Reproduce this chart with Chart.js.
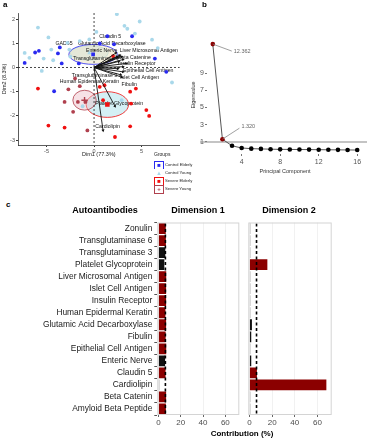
<!DOCTYPE html>
<html>
<head>
<meta charset="utf-8">
<script src="https://cdn.jsdelivr.net/npm/chart.js@4.4.0/dist/chart.umd.min.js"></script>
<style>
body { margin: 0; width: 367px; height: 440px; position: relative; background: #fff; overflow: hidden;
       font-family: "Liberation Sans", Arial, sans-serif; }
canvas { position: absolute; }
.t { position: absolute; white-space: nowrap; color: #000; line-height: 1; }
.c { transform: translateX(-50%); }
.lg { position: absolute; left: 154px; width: 8px; height: 7px; font-size: 6px; line-height: 7px; text-align: center; }
.lt { position: absolute; left: 165px; font-size: 4.2px; color: #222; white-space: nowrap; line-height: 7px; }
</style>
</head>
<body>
<canvas id="pa" width="185" height="162" style="left:0;top:0"></canvas>
<canvas id="pb" width="177" height="180" style="left:190px;top:0"></canvas>
<canvas id="pc1" width="242" height="225" style="left:0;top:215px"></canvas>
<canvas id="pc2" width="95" height="225" style="left:244px;top:215px"></canvas>

<div class="t" style="left:3px;top:1px;font-size:8px;font-weight:bold">a</div>
<div class="t" style="left:202px;top:1px;font-size:8px;font-weight:bold">b</div>
<div class="t" style="left:6px;top:201px;font-size:8px;font-weight:bold">c</div>

<div class="t" style="left:154px;top:152px;font-size:5px;color:#222">Groups</div>
<div class="lg" style="top:161px;border:1px solid #2a2af0;color:#2a2af0">■</div>
<div class="lt" style="top:161px">Control Elderly</div>
<div class="lg" style="top:169px;border:1px solid #fff;color:#a9d8ea">▲</div>
<div class="lt" style="top:169px">Control Young</div>
<div class="lg" style="top:177px;border:1px solid #f01010;color:#f01010">■</div>
<div class="lt" style="top:177px">Severe Elderly</div>
<div class="lg" style="top:185px;border:1px solid #b0404e;color:#b0404e;font-weight:bold">+</div>
<div class="lt" style="top:185px">Severe Young</div>

<div class="t c" style="left:105px;top:206px;font-size:9px;font-weight:bold">Autoantibodies</div>
<div class="t c" style="left:198px;top:206px;font-size:9px;font-weight:bold">Dimension 1</div>
<div class="t c" style="left:289px;top:206px;font-size:9px;font-weight:bold">Dimension 2</div>
<div class="t c" style="left:242px;top:430px;font-size:8px;font-weight:bold">Contribution (%)</div>

<script>
// ---- panel a: PCA biplot ----
const ctrlElderly = [[-7.3,0.19],[-6.2,0.62],[-5.8,0.69],[-3.8,0.58],[-3.6,0.83],[-3.4,0.17],[-1.6,0.17],
  [0.6,0.99],[1.4,1.29],[2.1,0.96],[4.0,1.29],[6.4,0.37],[7.6,-0.18],[-4.2,-0.98]];
const ctrlYoung = [[-7.3,0.6],[-6.8,0.4],[-5.9,1.65],[-4.8,1.24],[-4.5,0.74],[-5.3,0.37],[-5.5,-0.14],
  [-2.8,1.02],[-2.6,0.74],[-2.5,0.45],[-1.5,1.09],[-0.5,1.16],[0.25,1.47],[2.4,2.2],[3.2,1.72],[3.5,1.6],
  [4.8,1.9],[4.3,1.4],[6.1,1.15],[6.7,0.8],[8.2,-0.62],[2.9,-1.35],[-1.2,-1.6],[-4.3,0.3]];
const severeElderly = [[-5.9,-0.87],[-4.8,-2.4],[-3.1,-2.48],[0.95,-1.35],[2.0,0.47],[3.8,-1.0],[4.4,-0.87],
  [3.9,-1.49],[5.5,-1.76],[5.8,-2.0],[3.8,-2.43],[2.2,-2.87],[0.6,-0.8],[1.1,-0.73]];
const severeYoung = [[-2.0,-0.45],[-2.7,-0.9],[-1.5,-0.77],[-1.7,-1.42],[-2.2,-1.83],[-0.7,-2.6],
  [-3.1,-1.42],[-0.9,-1.42]];
const groupNames = ['Control Elderly', 'Control Young', 'Severe Elderly', 'Severe Young'];
const centroidX = [-0.1, -0.5, 1.4, -1.0];
const centroidY = [0.54, 0.6, -1.53, -1.35];
const ellipseRx = [2.55, 2.0, 2.23, 1.23];
const ellipseRy = [0.41, 0.3, 0.53, 0.41];
const dimTicksX = [-5, 0, 5];
const dimTicksY = [-3, -2, -1, 0, 1, 2];

const varNames = ['GAD65', 'Glutamic Acid Decarboxylase', 'Claudin 5', 'Enteric Nerve', 'Liver Microsomal Antigen',
  'Beta Catenine', 'Transglutaminase 6', 'Insulin Receptor', 'Epithelial Cell Antigen', 'Islet Cell Antigen',
  'Transglutaminase 3', 'Human Epidermal Keratin', 'Fibulin', 'Platelet Glycoprotein', 'Cardiolipin'];
const varTipX = [2.4, 2.7, 2.3, 2.5, 2.9, 3.05, 2.6, 3.4, 3.05, 3.05, 2.5, 2.8, 2.9, 2.2, 0.95];
const varTipY = [0.45, 0.5, 0.6, 0.42, 0.45, 0.33, 0.25, 0.17, 0.03, -0.18, -0.05, -0.3, -0.4, -1.6, -2.6];
const varLabelX = [-3.16, 1.87, 1.7, 0.8, 5.76, 4.25, 0.2, 4.5, 5.7, 4.8, 0.05, -0.48, 3.7, 2.65, 1.42];
const varLabelY = [0.99, 0.99, 1.29, 0.69, 0.69, 0.41, 0.37, 0.17, -0.14, -0.41, -0.32, -0.6, -0.69, -1.49, -2.45];

// ---- panel b: scree plot ----
const components = [1, 2, 3, 4, 5, 6, 7, 8, 9, 10, 11, 12, 13, 14, 15, 16];
const eigenvalues = [12.362, 1.320, 0.55, 0.30, 0.22, 0.19, 0.16, 0.14, 0.13, 0.12, 0.11, 0.10, 0.09, 0.08, 0.07, 0.06];
const screeTicksX = [4, 8, 12, 16];
const screeTicksY = [1, 3, 5, 7, 9];

// ---- panel c: contributions ----
const autoantibodies = ['Zonulin', 'Transglutaminase 6', 'Transglutaminase 3', 'Platelet Glycoprotein',
  'Liver Microsomal Antigen', 'Islet Cell Antigen', 'Insulin Receptor', 'Human Epidermal Keratin',
  'Glutamic Acid Decarboxylase', 'Fibulin', 'Epithelial Cell Antigen', 'Enteric Nerve', 'Claudin 5',
  'Cardiolipin', 'Beta Catenin', 'Amyloid Beta Peptide'];
const dim1Contrib = [6.6, 6.7, 6.2, 5.3, 7.0, 6.9, 6.9, 6.3, 6.9, 6.5, 7.0, 6.0, 6.4, 0.6, 6.9, 6.7];
const dim2Contrib = [0.4, 0.6, 0.8, 15.8, 0.2, 0.3, 0.5, 0.6, 2.2, 1.6, 0.2, 1.6, 6.6, 67.8, 0.5, 0.5];
const contribTicks = [0, 20, 40, 60];

const groupColors = ['#2a2af0', '#a9d8ea', '#f01010', '#b0404e'];
const ellipseFills = ['rgba(232,222,180,0.45)', 'rgba(173,216,230,0.35)', 'rgba(170,225,235,0.5)', 'rgba(238,190,200,0.45)'];
const FONT = '"Liberation Sans", Arial, sans-serif';

Chart.defaults.font.family = FONT;
Chart.defaults.animation = false;
Chart.defaults.plugins.legend.display = false;
Chart.defaults.plugins.tooltip.enabled = false;

const toPts = arr => arr.map(p => ({ x: p[0], y: p[1] }));
const fixedTicks = vals => s => { s.ticks = vals.map(v => ({ value: v })); };

const biplotDecor = {
  id: 'biplotDecor',
  beforeDatasetsDraw(chart) {
    const { ctx, chartArea: a, scales: { x, y } } = chart;
    ctx.save();
    // confidence ellipses
    [1, 0, 2, 3].forEach(i => {
      const cx = x.getPixelForValue(centroidX[i]), cy = y.getPixelForValue(centroidY[i]);
      const rx = Math.abs(x.getPixelForValue(centroidX[i] + ellipseRx[i]) - cx);
      const ry = Math.abs(y.getPixelForValue(centroidY[i] + ellipseRy[i]) - cy);
      ctx.beginPath();
      ctx.ellipse(cx, cy, rx, ry, 0, 0, Math.PI * 2);
      ctx.fillStyle = ellipseFills[i];
      ctx.fill();
      ctx.strokeStyle = groupColors[i];
      ctx.lineWidth = 0.8;
      ctx.stroke();
    });
    // dashed zero lines
    ctx.setLineDash([2, 2]);
    ctx.strokeStyle = '#333';
    ctx.lineWidth = 0.9;
    const x0 = x.getPixelForValue(0), y0 = y.getPixelForValue(0);
    ctx.beginPath();
    ctx.moveTo(x0, a.top); ctx.lineTo(x0, a.bottom);
    ctx.moveTo(a.left, y0); ctx.lineTo(a.right, y0);
    ctx.stroke();
    ctx.setLineDash([]);
    // variable labels
    ctx.font = '5.2px ' + FONT;
    ctx.fillStyle = '#111';
    ctx.textAlign = 'center';
    ctx.textBaseline = 'middle';
    varNames.forEach((n, i) => {
      ctx.fillText(n, x.getPixelForValue(varLabelX[i]), y.getPixelForValue(varLabelY[i]));
    });
    ctx.restore();
  }
};

const arrowSets = varNames.map((n, i) => ({
  label: n,
  data: [{ x: 0, y: 0 }, { x: varTipX[i], y: varTipY[i] }],
  showLine: true,
  borderColor: '#111',
  borderWidth: 0.9,
  pointRadius: [0, 1.8],
  pointStyle: 'triangle',
  pointBackgroundColor: '#111',
  pointBorderWidth: 0,
  pointRotation: c => {
    const ch = c.chart, sx = ch.scales.x, sy = ch.scales.y;
    if (!sx || !sy || c.dataIndex !== 1) return 0;
    const d = c.dataset.data;
    const dx = sx.getPixelForValue(d[1].x) - sx.getPixelForValue(d[0].x);
    const dy = sy.getPixelForValue(d[1].y) - sy.getPixelForValue(d[0].y);
    return Math.atan2(dy, dx) * 180 / Math.PI + 90;
  }
}));

const groupData = [ctrlElderly, ctrlYoung, severeElderly, severeYoung];
const pointSets = groupData.map((g, i) => ({
  label: groupNames[i],
  data: toPts(g),
  pointRadius: 1.9,
  pointBackgroundColor: groupColors[i],
  pointBorderWidth: 0,
  showLine: false
}));
const centroidSets = groupNames.map((n, i) => ({
  label: n + ' mean',
  data: [{ x: centroidX[i], y: centroidY[i] }],
  pointStyle: ['rect', 'triangle', 'rect', 'cross'][i],
  pointRadius: [2.6, 2.4, 3.2, 3.2][i],
  pointBackgroundColor: groupColors[i],
  pointBorderColor: groupColors[i],
  pointBorderWidth: i === 3 ? 1.4 : 0,
  showLine: false
}));

const axisTicks = { font: { size: 5.5 }, color: '#4d4d4d', padding: 1 };

new Chart(document.getElementById('pa'), {
  type: 'scatter',
  data: { datasets: [...arrowSets, ...centroidSets, ...pointSets] },
  options: {
    responsive: false,
    devicePixelRatio: 1,
    layout: { padding: { top: 13, right: 5, left: 0, bottom: 0 } },
    scales: {
      x: {
        min: -8, max: 9,
        afterBuildTicks: fixedTicks(dimTicksX),
        ticks: axisTicks,
        grid: { drawOnChartArea: false, tickLength: 2, color: '#333' },
        border: { color: '#333', width: 0.8 },
        title: { display: true, text: 'Dim1 (77.3%)', font: { size: 5.5 }, color: '#222', padding: { top: 0, bottom: 4 } },
        afterFit: s => { s.height = 17; }
      },
      y: {
        min: -3.2, max: 2.25,
        afterBuildTicks: fixedTicks(dimTicksY),
        ticks: axisTicks,
        grid: { drawOnChartArea: false, tickLength: 2, color: '#333' },
        border: { color: '#333', width: 0.8 },
        title: { display: true, text: 'Dim2 (8.3%)', font: { size: 5.5 }, color: '#222', padding: { top: 1, bottom: 0 } },
        afterFit: s => { s.width = 18; }
      }
    }
  },
  plugins: [biplotDecor]
});

// ---- panel b ----
const screeDecor = {
  id: 'screeDecor',
  beforeDatasetsDraw(chart) {
    const { ctx, scales: { y } } = chart;
    const yy = y.getPixelForValue(1);
    ctx.save();
    ctx.strokeStyle = '#8a8a8a';
    ctx.lineWidth = 1.1;
    ctx.beginPath();
    ctx.moveTo(10, yy); ctx.lineTo(chart.width, yy);
    ctx.stroke();
    ctx.restore();
  },
  afterDatasetsDraw(chart) {
    const { ctx } = chart;
    const pts = chart.getDatasetMeta(0).data;
    const offs = [[19, 7], [17, -11]];
    ctx.save();
    ctx.strokeStyle = '#777';
    ctx.lineWidth = 0.7;
    ctx.fillStyle = '#666';
    ctx.font = '5.5px ' + FONT;
    ctx.textBaseline = 'middle';
    [0, 1].forEach(i => {
      const p = pts[i];
      ctx.beginPath();
      ctx.moveTo(p.x, p.y); ctx.lineTo(p.x + offs[i][0], p.y + offs[i][1]);
      ctx.stroke();
      ctx.fillText(eigenvalues[i].toFixed(3), p.x + offs[i][0] + 2, p.y + offs[i][1] + (i === 0 ? 0.5 : -2));
    });
    ctx.restore();
  }
};

new Chart(document.getElementById('pb'), {
  type: 'scatter',
  data: {
    datasets: [{
      data: components.map((c, i) => ({ x: c, y: eigenvalues[i] })),
      showLine: true,
      borderColor: '#555',
      borderWidth: 1,
      pointRadius: 2.3,
      pointBorderWidth: 0,
      pointBackgroundColor: eigenvalues.map(v => v > 1 ? '#8b0000' : '#000')
    }]
  },
  options: {
    responsive: false,
    devicePixelRatio: 1,
    layout: { padding: { top: 36, right: 2, left: 0, bottom: 0 } },
    scales: {
      x: {
        min: 0.4, max: 16.6,
        afterBuildTicks: fixedTicks(screeTicksX),
        ticks: { font: { size: 7 }, color: '#555', padding: 2 },
        grid: { drawOnChartArea: false, tickLength: 2, color: '#777' },
        border: { display: false },
        title: { display: true, text: 'Principal Component', font: { size: 5.5 }, color: '#333', padding: { top: 0, bottom: 5 } },
        afterFit: s => { s.height = 26; }
      },
      y: {
        min: -0.4, max: 13.3,
        afterBuildTicks: fixedTicks(screeTicksY),
        ticks: { font: { size: 7 }, color: '#555', padding: 1 },
        grid: { drawOnChartArea: false, tickLength: 2, color: '#777' },
        border: { display: false },
        title: { display: true, text: 'Eigenvalue', font: { size: 5.5 }, color: '#333', padding: 0 },
        afterFit: s => { s.width = 17; }
      }
    }
  },
  plugins: [screeDecor]
});

// ---- panel c ----
const THRESH = 100 / autoantibodies.length;
const barColor = c => {
  const v = c.raw;
  return v > THRESH ? '#8b0000' : (v >= 1 ? '#111' : '#a8a8a8');
};
const panelDecor = {
  id: 'panelDecor',
  afterDatasetsDraw(chart) {
    const { ctx, chartArea: a, scales: { x } } = chart;
    const xt = x.getPixelForValue(THRESH);
    ctx.save();
    ctx.strokeStyle = '#000';
    ctx.lineWidth = 1.6;
    ctx.setLineDash([3, 2.5]);
    ctx.beginPath();
    ctx.moveTo(xt, a.top + 1); ctx.lineTo(xt, a.bottom);
    ctx.stroke();
    ctx.setLineDash([]);
    ctx.strokeStyle = '#d4d4d4';
    ctx.lineWidth = 1;
    ctx.strokeRect(a.left + 0.5, a.top + 0.5, a.width - 1, a.height - 1);
    ctx.restore();
  }
};

function contribChart(id, values, showLabels) {
  return new Chart(document.getElementById(id), {
    type: 'bar',
    data: {
      labels: autoantibodies,
      datasets: [{ data: values, backgroundColor: barColor, borderWidth: 0, barPercentage: 0.9, categoryPercentage: 1, minBarLength: 1 }]
    },
    options: {
      indexAxis: 'y',
      responsive: false,
      devicePixelRatio: 1,
      layout: { padding: showLabels ? { top: 7.5, right: 2.7, left: 0, bottom: 0 } : { top: 7.5, right: 7.3, left: 4.3, bottom: 0 } },
      scales: {
        x: {
          min: -1, max: 72.5,
          afterBuildTicks: fixedTicks(contribTicks),
          ticks: { font: { size: 8 }, color: '#4d4d4d', padding: 1 },
          grid: { color: '#f1f1f1', tickColor: '#666', tickLength: 2, drawTicks: true },
          border: { display: false },
          afterFit: s => { s.height = 25; }
        },
        y: {
          display: showLabels,
          ticks: { font: { size: 8.4 }, color: '#1a1a1a', autoSkip: false, padding: 2 },
          grid: { drawOnChartArea: false, tickLength: 3, color: '#555' },
          border: { display: false },
          afterFit: s => { if (showLabels) s.width = 157.3; }
        }
      }
    },
    plugins: [panelDecor]
  });
}
contribChart('pc1', dim1Contrib, true);
contribChart('pc2', dim2Contrib, false);
</script>
</body>
</html>
